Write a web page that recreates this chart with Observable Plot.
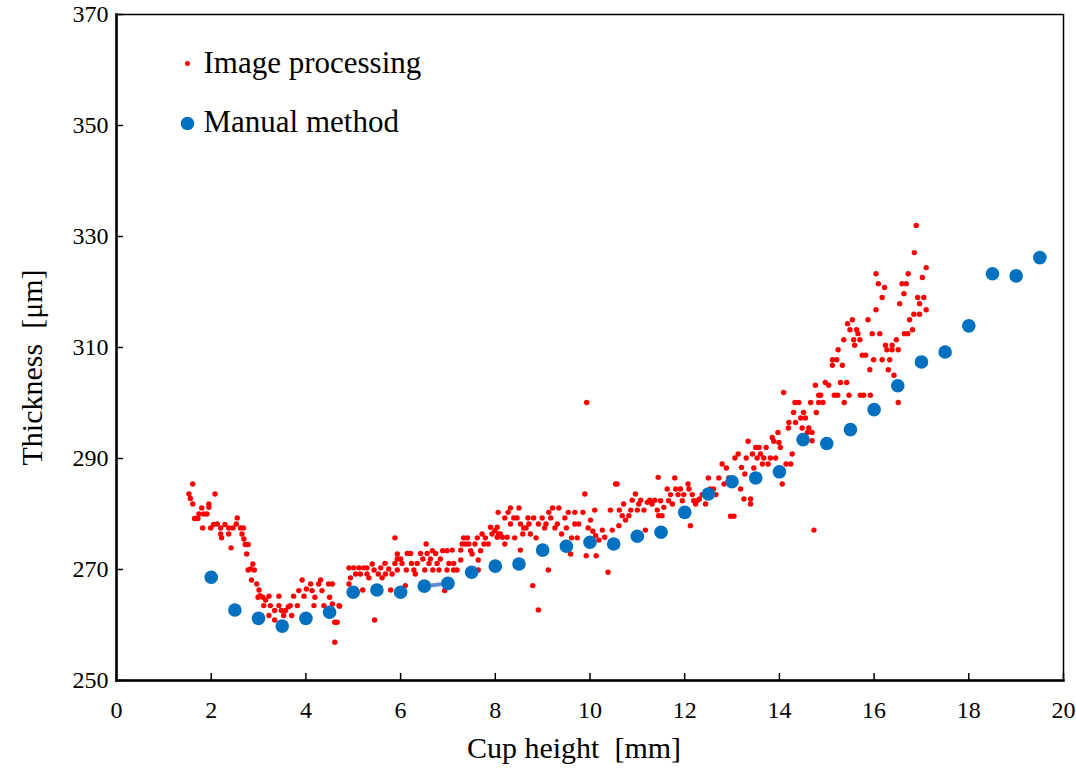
<!DOCTYPE html>
<html><head><meta charset="utf-8">
<script src="https://cdn.jsdelivr.net/npm/d3@7"></script>
<script src="https://cdn.jsdelivr.net/npm/@observablehq/plot@0.6"></script>
<style>body{margin:0;background:#fff}#chart svg{display:block}</style>
</head><body><div id="chart"></div>
<script>
const manualX = [2,2.5,3,3.5,4,4.5,5,5.5,6,6.5,7,7.5,8,8.5,9,9.5,10,10.5,11,11.5,12,12.5,13,13.5,14,14.5,15,15.5,16,16.5,17,17.5,18,18.5,19,19.5];
const manualY = [268.6,262.7,261.2,259.8,261.2,262.3,265.9,266.3,265.9,267.0,267.5,269.5,270.6,271.0,273.5,274.2,274.9,274.6,276.0,276.7,280.3,283.6,285.8,286.5,287.6,293.4,292.7,295.2,298.8,303.1,307.4,309.2,313.9,323.3,322.9,326.2];
const xTicks = [0,2,4,6,8,10,12,14,16,18,20];
const yTicks = [250,270,290,310,330,350,370];
const legendLabels = ["Image processing","Manual method"];
const imagePoints = [
[1.61,285.4],[1.53,283.6],[1.56,282.8],[1.61,281.8],[2.08,283.6],[1.95,281.8],[1.95,281.2],[1.80,281.1],[1.74,280.0],[1.84,280.0],
[1.91,280.0],[1.65,279.2],[1.72,279.2],[1.82,277.5],[1.99,277.5],[2.05,278.1],[2.13,278.2],[2.20,277.5],[2.29,278.1],[2.37,277.5],
[2.46,277.5],[2.53,278.2],[2.55,279.3],[2.62,277.5],[2.68,277.5],[2.20,276.4],[2.37,276.4],[2.22,275.7],[2.65,276.4],[2.69,275.5],
[2.72,274.5],[2.78,274.5],[2.42,273.9],[2.75,272.8],[2.88,271.0],[2.83,270.1],[2.78,269.9],[2.91,269.9],[2.85,268.1],[2.96,267.4],
[3.01,266.3],[3.03,265.3],[3.09,265.0],[2.99,265.0],[3.15,264.5],[3.22,265.2],[3.11,263.5],[3.25,263.5],[3.34,262.6],[3.22,261.7],
[3.34,260.9],[3.43,265.2],[3.43,263.5],[3.48,262.6],[3.53,261.7],[3.63,263.3],[3.67,263.5],[3.70,261.7],[3.57,262.6],[3.74,265.2],
[3.82,263.5],[3.85,266.2],[3.92,268.1],[3.96,265.2],[4.01,266.5],[4.10,267.4],[4.13,266.2],[4.19,265.0],[4.17,263.5],[4.27,267.4],
[4.31,268.1],[4.34,266.2],[4.38,263.5],[4.48,267.4],[4.56,267.4],[4.50,265.0],[4.56,263.8],[4.61,260.5],[4.66,260.5],[4.61,256.9],
[4.70,263.5],[4.71,263.4],
[4.91,270.3],[4.91,267.4],[4.94,268.5],[5.01,270.3],[5.05,269.2],[5.12,270.3],[5.15,269.2],[5.22,270.3],[5.29,270.3],[5.29,269.2],
[5.33,268.5],[5.20,266.3],[5.40,271.0],[5.44,269.9],[5.45,260.9],[5.53,269.2],[5.58,270.3],[5.61,268.5],[5.67,271.1],[5.68,269.2],
[5.75,270.1],[5.79,266.3],[5.82,269.2],[5.88,275.7],[5.88,271.1],[5.93,271.9],[5.93,272.8],[5.93,269.9],[6.00,271.9],[6.03,271.1],
[6.10,267.1],[6.12,269.9],[6.14,272.9],[6.21,272.9],[6.23,271.1],[6.28,269.9],[6.31,269.2],[6.35,271.1],[6.42,272.9],[6.47,271.9],
[6.51,269.9],[6.54,274.6],[6.56,272.9],[6.60,271.1],[6.63,271.9],[6.67,273.4],[6.68,269.9],[6.74,272.9],[6.77,271.1],[6.81,269.9],
[6.84,271.9],[6.89,273.4],[6.93,266.2],[6.98,273.4],[6.98,269.9],[7.02,271.1],[7.09,273.5],[7.12,271.1],[7.12,269.9],[7.19,269.9],
[7.27,273.5],[7.27,271.7],[7.30,274.6],[7.33,275.7],[7.37,274.6],[7.41,275.7],[7.44,274.6],[7.48,273.4],[7.51,272.8],[7.57,274.6],
[7.62,275.7],[7.64,271.7],[7.64,269.9],[7.69,273.4],[7.72,276.4],[7.76,274.6],[7.79,275.7],[7.85,274.6],[7.90,277.6],[7.93,276.4],
[7.99,277.0],[8.04,277.6],[8.06,280.3],[8.07,276.4],
[8.04,275.8],[8.11,276.4],[8.15,275.8],[8.20,279.3],[8.20,274.6],[8.25,275.8],[8.27,280.3],[8.32,281.1],[8.32,278.2],[8.39,279.3],
[8.41,275.7],[8.46,279.3],[8.50,281.1],[8.53,278.2],[8.53,273.5],[8.58,276.4],[8.60,277.5],[8.65,277.5],[8.69,279.3],[8.71,278.2],
[8.74,276.4],[8.79,267.1],[8.81,279.3],[8.86,275.7],[8.91,262.7],[8.91,278.2],[8.99,279.3],[9.04,277.5],[9.07,278.2],[9.12,269.9],
[9.13,280.3],[9.17,279.3],[9.21,281.1],[9.26,277.5],[9.31,278.2],[9.34,281.1],[9.40,276.4],[9.47,279.3],[9.50,277.5],[9.54,280.3],
[9.59,272.8],[9.61,275.7],[9.68,280.3],[9.68,278.2],[9.73,275.7],[9.76,278.2],[9.85,280.3],[9.89,283.6],[9.92,272.5],[9.93,300.1],
[9.96,277.5],[10.01,278.9],[10.06,276.9],[10.10,280.7],[10.13,272.5],[10.12,276.1],[10.19,275.3],[10.26,277.1],[10.31,275.8],[10.38,269.5],
[10.43,280.7],[10.47,277.1],[10.54,285.4],[10.57,285.4],[10.61,277.9],[10.62,280.7],[10.68,279.7],[10.71,281.8],[10.75,278.9],[10.82,279.7],
[10.86,280.7],[10.89,282.5],[10.96,283.6],[11.00,280.7],[11.03,281.8],[11.07,282.5],[11.14,280.7],[11.17,277.1],[11.21,282.1],[11.26,282.5],
[11.31,281.8],[11.37,282.5],[11.44,286.6],[11.42,280.7],[11.45,279.7],
[11.49,282.4],[11.52,279.7],[11.56,281.2],[11.63,284.5],[11.66,282.4],[11.70,283.5],[11.74,281.8],[11.79,286.5],[11.81,284.5],[11.86,283.5],
[11.91,284.5],[11.95,282.4],[11.98,283.5],[12.07,285.4],[12.09,284.5],[12.12,277.9],[12.16,283.5],[12.19,282.4],[12.23,281.8],[12.26,282.4],
[12.31,282.7],[12.37,283.5],[12.44,281.8],[12.50,286.5],[12.54,284.5],[12.61,284.5],[12.66,283.5],[12.72,286.5],[12.79,289.0],[12.83,285.4],
[12.88,288.3],[12.93,286.5],[12.97,279.6],[13.04,279.6],[13.06,290.1],[13.02,285.4],[13.13,290.8],[13.18,284.5],[13.20,288.4],[13.25,282.7],
[13.27,287.2],[13.30,290.1],[13.34,293.1],[13.39,282.7],[13.39,281.8],[13.43,290.8],[13.46,288.3],[13.50,292.0],[13.53,290.1],[13.57,292.0],
[13.60,290.8],[13.64,289.0],[13.67,290.1],[13.72,292.0],[13.76,289.0],[13.81,290.1],[13.85,293.8],[13.88,293.1],[13.92,290.1],[13.97,294.7],
[13.99,292.9],[14.02,292.0],[14.06,285.4],[14.09,301.9],[14.14,289.0],[14.19,295.5],[14.20,296.5],[14.24,289.0],[14.27,290.8],[14.30,298.3],
[14.33,300.1],[14.34,296.5],[14.41,300.1],[14.45,297.3],[14.48,295.5],[14.51,298.3],[14.55,297.3],[14.59,294.7],[14.62,295.5],[14.66,300.1],
[14.69,294.7],[14.73,277.1],[14.76,303.2],[14.78,298.3],[14.83,301.4],
[14.69,293.2],[14.83,300.1],[14.87,301.4],[14.92,300.1],[14.97,303.7],[15.04,303.2],[15.12,306.8],[15.12,307.8],[15.16,301.4],[15.21,307.8],
[15.23,301.4],[15.24,309.6],[15.29,303.7],[15.33,306.8],[15.36,311.4],[15.37,300.1],[15.42,303.7],[15.44,314.3],[15.47,301.4],[15.49,313.2],
[15.54,315.0],[15.57,311.4],[15.59,310.4],[15.63,313.2],[15.66,312.5],[15.70,311.4],[15.71,301.4],[15.75,308.6],[15.78,301.4],[15.82,308.6],
[15.87,315.0],[15.91,306.0],[15.92,301.4],[15.96,312.5],[15.99,307.8],[16.04,316.8],[16.04,323.3],[16.09,321.5],[16.12,312.5],[16.17,307.8],
[16.17,319.0],[16.22,320.8],[16.24,310.4],[16.27,309.6],[16.30,306.0],[16.33,307.8],[16.38,310.4],[16.38,309.6],[16.42,305.0],[16.47,311.4],
[16.51,309.6],[16.51,300.1],[16.54,317.9],[16.59,321.5],[16.63,319.7],[16.68,321.5],[16.64,312.5],[16.71,312.5],[16.72,323.3],[16.75,315.0],
[16.81,313.2],[16.84,316.0],[16.85,327.1],[16.89,332.0],[16.92,319.0],[16.96,317.9],[16.96,316.0],[17.02,322.6],[17.05,319.0],[17.10,324.4],
[17.10,316.8]
];
const linkedX = [6.5, 7];

const serif = "'Liberation Serif', 'Times New Roman', serif";
const red = "#ff0000", blue = "#0070c0";
const manual = manualX.map((x, i) => ({x, y: manualY[i]}));
const link = manual.filter(d => linkedX.includes(d.x));

const chart = Plot.plot({
  width: 1076, height: 770,
  marginLeft: 116, marginRight: 13, marginTop: 14, marginBottom: 90,
  style: {fontFamily: serif, background: "#fff", color: "#000"},
  x: {domain: [0, 20]},
  y: {domain: [250, 370]},
  marks: [
    Plot.axisX(xTicks, {tickSize: -7, tickFormat: () => "", label: null, strokeWidth: 1.5}),
    Plot.axisX(xTicks, {tickSize: 0, tickPadding: 20, fontSize: 24, label: null}),
    Plot.axisY(yTicks, {tickSize: -7, tickFormat: () => "", label: null, strokeWidth: 1.5}),
    Plot.axisY(yTicks, {tickSize: 0, tickPadding: 8, fontSize: 24, label: null}),
    Plot.frame({stroke: "#000", strokeWidth: 1.5}),
    Plot.frame({anchor: "left", stroke: "#000", strokeWidth: 2.5}),
    Plot.frame({anchor: "bottom", stroke: "#000", strokeWidth: 2.5}),
    Plot.dot(imagePoints, {x: d => d[0], y: d => d[1], r: 2.7, fill: red, stroke: "none"}),
    Plot.line(link, {x: "x", y: "y", stroke: "#4472c4", strokeWidth: 4, strokeOpacity: 0.8}),
    Plot.dot(manual, {x: "x", y: "y", r: 6.8, fill: blue, stroke: "none"}),
    Plot.dot([legendLabels[0]], {frameAnchor: "top-left", dx: 71, dy: 49, r: 2.5, fill: red, stroke: "none"}),
    Plot.dot([legendLabels[1]], {frameAnchor: "top-left", dx: 71, dy: 109, r: 6.8, fill: blue, stroke: "none"}),
    Plot.text([legendLabels[0]], {frameAnchor: "top-left", dx: 87, dy: 36, textAnchor: "start", fontSize: 31, fill: "#000"}),
    Plot.text([legendLabels[1]], {frameAnchor: "top-left", dx: 87, dy: 95, textAnchor: "start", fontSize: 31, fill: "#000"}),
    Plot.text(["Cup height\u00a0 [mm]"], {frameAnchor: "bottom", dx: -16, dy: 77, fontSize: 30, fill: "#000"}),
    Plot.text(["Thickness\u00a0 [\u03bcm]"], {frameAnchor: "left", dx: -84, dy: 118, rotate: -90, fontSize: 30, fill: "#000"})
  ]
});
document.getElementById("chart").append(chart);
</script>
</body></html>
